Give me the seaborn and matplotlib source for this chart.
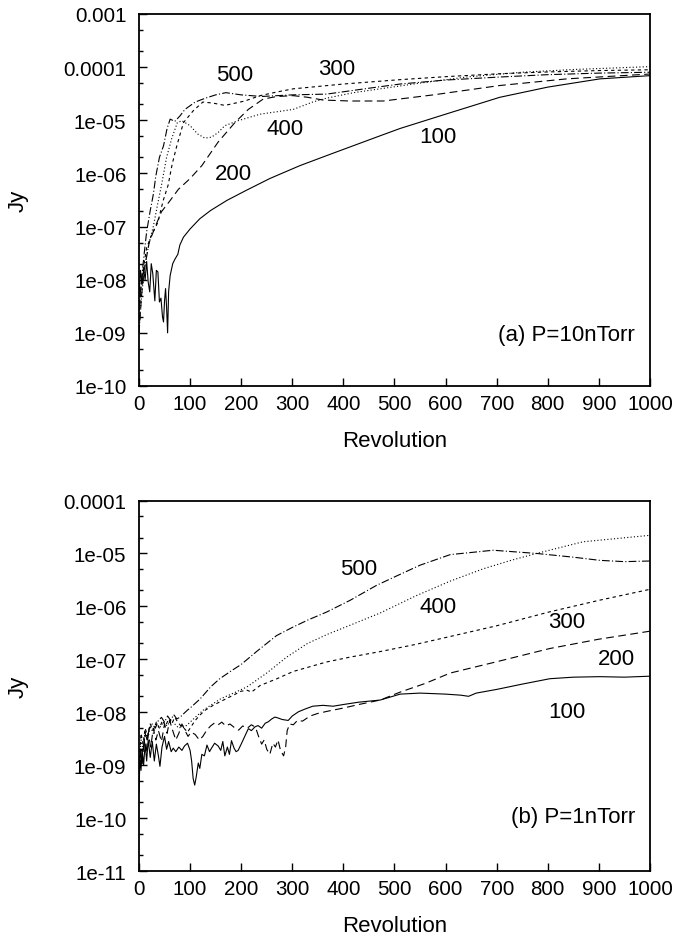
import numpy as np
import pandas as pd
import matplotlib
matplotlib.use("Agg")
import matplotlib.pyplot as plt
import matplotlib.ticker as mticker
import seaborn as sns

# ---- panel (a) P=10nTorr : revolution / Jy ----
a100_x = [0, 3, 6, 9, 12, 15, 18, 21, 24, 27, 31, 34, 37, 40, 43, 46, 48, 50, 52, 54, 56, 58,
          61, 66, 70, 76, 80, 87, 100, 119, 140, 172, 210, 256, 315, 380, 472, 511, 600, 706,
          800, 902, 1000]
a100_y = [5e-9, 1.5e-8, 8e-9, 1.6e-8, 1e-8, 2.2e-8, 9e-9, 5.9e-9, 2e-8, 1.3e-8, 4e-9, 1.5e-8,
          1.4e-8, 3.8e-9, 4.5e-9, 2e-9, 1.6e-9, 4e-9, 6.8e-9, 3e-9, 1e-9, 6e-9,
          1.2e-8, 2e-8, 2.4e-8, 3e-8, 4.5e-8, 6.3e-8, 9e-8, 1.4e-7, 2e-7, 3.1e-7, 4.8e-7, 8e-7,
          1.4e-6, 2.4e-6, 5.1e-6, 7e-6, 1.3e-5, 2.7e-5, 4.2e-5, 6e-5, 6.9e-5]

a200_x = [0, 5, 10, 20, 30, 44, 60, 77, 100, 123, 155, 188, 214, 243, 270, 302, 330, 360,
          413, 478, 576, 706, 837, 1000]
a200_y = [1e-9, 5e-9, 1.5e-8, 5e-8, 9e-8, 1.9e-7, 3e-7, 5e-7, 8e-7, 1.4e-6, 3.9e-6, 9.1e-6,
          1.6e-5, 2.5e-5, 2.8e-5, 2.9e-5, 2.7e-5, 2.4e-5, 2.3e-5, 2.3e-5, 3e-5, 4.5e-5, 6e-5,
          7.4e-5]

a300_x = [0, 5, 15, 25, 37, 47, 57, 65, 74, 87, 106, 125, 145, 168, 207, 237, 270, 302, 400,
          511, 600, 706, 800, 900, 1000]
a300_y = [2e-9, 1e-8, 4e-8, 7e-8, 1.2e-7, 3e-7, 6e-7, 1.5e-6, 3.3e-6, 9e-6, 1.5e-5, 2.2e-5,
          2.1e-5, 1.9e-5, 2.3e-5, 2.9e-5, 3.4e-5, 3.9e-5, 4.8e-5, 5.8e-5, 6.6e-5, 7.5e-5,
          8.1e-5, 8.6e-5, 8.9e-5]

a400_x = [0, 5, 12, 20, 28, 36, 44, 54, 64, 75, 84, 100, 115, 129, 142, 155, 168, 194, 237,
          302, 340, 367, 420, 472, 550, 641, 750, 850, 1000]
a400_y = [1e-9, 5e-9, 2e-8, 5e-8, 1e-7, 2.5e-7, 6e-7, 2e-6, 4.5e-6, 9e-6, 9.8e-6, 7.9e-6,
          5.5e-6, 4.6e-6, 4.8e-6, 5.9e-6, 7.9e-6, 9.8e-6, 1.3e-5, 1.6e-5, 2.2e-5, 2.6e-5,
          3.3e-5, 3.9e-5, 5e-5, 6.5e-5, 8e-5, 9e-5, 1.02e-4]

a500_x = [0, 5, 10, 15, 22, 28, 33, 40, 48, 55, 61, 70, 80, 90, 110, 130, 150, 170, 200,
          240, 300, 367, 450, 511, 600, 706, 800, 900, 1000]
a500_y = [3e-9, 1e-8, 3e-8, 8e-8, 2e-7, 4e-7, 9e-7, 2e-6, 3.3e-6, 7e-6, 1.05e-5, 9.5e-6,
          1.2e-5, 1.6e-5, 2.2e-5, 2.6e-5, 3e-5, 3.3e-5, 3e-5, 2.8e-5, 3e-5, 3.1e-5, 4e-5,
          4.8e-5, 5.7e-5, 6.5e-5, 7.2e-5, 7.7e-5, 8e-5]

# ---- panel (b) P=1nTorr ----
b100_x = [0, 2, 4, 6, 9, 12, 15, 18, 22, 26, 30, 34, 38, 41, 45, 50, 54, 58, 63, 67, 72, 78,
          84, 89, 95, 100, 103, 106, 109, 112, 116, 119, 123, 128, 133, 138, 142, 148, 155,
          160, 164, 168, 173, 177, 181, 186, 190, 194, 200, 207, 214, 220, 227, 233, 240, 247,
          253, 260, 266, 272, 280, 292, 300, 312, 325, 340, 360, 380, 400, 430, 472, 511, 550,
          600, 630, 645, 660, 700, 750, 804, 850, 902, 950, 1000]
b100_y = [3e-10, 1.5e-9, 8e-10, 2e-9, 1e-9, 2.5e-9, 1.2e-9, 3e-9, 1.4e-9, 2.8e-9, 1.2e-9,
          2.5e-9, 1.5e-9, 9.5e-10, 2.2e-9, 3.5e-9, 2e-9, 2.8e-9, 1.8e-9, 2.1e-9, 1.8e-9,
          2.2e-9, 1.9e-9, 2.3e-9, 2.6e-9, 1.9e-9, 1.2e-9, 5.6e-10, 4.2e-10, 6e-10, 1.1e-9,
          8.7e-10, 1.6e-9, 1.5e-9, 2.4e-9, 1.8e-9, 2.1e-9, 2.6e-9, 2.3e-9, 1.9e-9, 2.8e-9,
          1.5e-9, 2.2e-9, 1.6e-9, 2.9e-9, 2.1e-9, 1.8e-9, 1.9e-9, 2.5e-9, 3.5e-9, 4.9e-9,
          4.5e-9, 5.3e-9, 5.6e-9, 5e-9, 6.2e-9, 6.6e-9, 7.5e-9, 8.1e-9, 7.8e-9, 7.3e-9, 7e-9,
          8.5e-9, 1.02e-8, 1.15e-8, 1.3e-8, 1.35e-8, 1.3e-8, 1.4e-8, 1.55e-8, 1.7e-8, 2.2e-8,
          2.3e-8, 2.2e-8, 2.1e-8, 2e-8, 2.3e-8, 2.7e-8, 3.4e-8, 4.3e-8, 4.6e-8, 4.7e-8, 4.6e-8,
          4.8e-8]

b200_x = [0, 3, 6, 10, 14, 18, 23, 28, 33, 38, 44, 50, 55, 60, 66, 72, 78, 84, 90, 96, 102,
          110, 118, 125, 132, 140, 148, 155, 162, 170, 178, 186, 195, 203, 212, 220, 228, 234,
          240, 245, 250, 256, 262, 267, 272, 277, 283, 287, 290, 295, 302, 310, 320, 335, 350,
          370, 400, 430, 472, 511, 560, 609, 700, 804, 900, 1000]
b200_y = [5e-10, 2e-9, 1e-9, 3e-9, 1.8e-9, 4e-9, 2.2e-9, 5e-9, 3e-9, 4.5e-9, 2.8e-9, 6e-9,
          4e-9, 7e-9, 4.5e-9, 3e-9, 4e-9, 6e-9, 4.5e-9, 3.5e-9, 4.2e-9, 3.8e-9, 3e-9, 3.5e-9,
          4.5e-9, 5.5e-9, 6.3e-9, 5.8e-9, 6.5e-9, 5.5e-9, 6e-9, 5.2e-9, 4.6e-9, 5.5e-9, 5e-9,
          5.8e-9, 5.2e-9, 3.5e-9, 2.5e-9, 3e-9, 2e-9, 1.6e-9, 2.6e-9, 2.2e-9, 3e-9, 1.9e-9,
          1.5e-9, 2.2e-9, 4.5e-9, 6e-9, 5.8e-9, 7e-9, 6.8e-9, 8.5e-9, 9.5e-9, 1.05e-8, 1.2e-8,
          1.4e-8, 1.7e-8, 2.4e-8, 3.5e-8, 5.5e-8, 9e-8, 1.6e-7, 2.4e-7, 3.4e-7]

b300_x = [0, 4, 8, 12, 17, 22, 28, 34, 40, 46, 52, 58, 64, 70, 76, 82, 88, 95, 100, 110, 120,
          130, 145, 160, 180, 200, 212, 220, 237, 270, 302, 367, 413, 472, 540, 609, 700, 804,
          900, 1000]
b300_y = [1e-9, 4e-9, 2.5e-9, 5e-9, 3.5e-9, 6e-9, 4.5e-9, 6.5e-9, 5e-9, 7e-9, 5.5e-9, 7.5e-9,
          6e-9, 8e-9, 6.5e-9, 5.5e-9, 5e-9, 4.2e-9, 5e-9, 7e-9, 9e-9, 1.1e-8, 1.35e-8, 1.6e-8,
          2e-8, 2.5e-8, 2.6e-8, 2.4e-8, 3.2e-8, 4.3e-8, 5.9e-8, 8.9e-8, 1.1e-7, 1.4e-7, 1.9e-7,
          2.7e-7, 4.3e-7, 7.9e-7, 1.3e-6, 2.1e-6]

b400_x = [0, 4, 8, 12, 17, 22, 28, 34, 40, 48, 55, 62, 70, 78, 86, 93, 100, 110, 126, 140,
          160, 185, 211, 250, 289, 330, 370, 413, 472, 543, 609, 673, 730, 778, 869, 1000]
b400_y = [8e-10, 3e-9, 2e-9, 4.5e-9, 3e-9, 5.5e-9, 4e-9, 6e-9, 5e-9, 6.5e-9, 5.5e-9, 7e-9,
          6e-9, 5e-9, 5.5e-9, 5.6e-9, 6.5e-9, 8e-9, 1.1e-8, 1.35e-8, 1.8e-8, 2.3e-8, 3e-8,
          5.5e-8, 1.1e-7, 2e-7, 3e-7, 4.4e-7, 7.5e-7, 1.6e-6, 3e-6, 5.1e-6, 7.5e-6, 1e-5,
          1.66e-5, 2.2e-5]

b500_x = [0, 4, 8, 12, 16, 20, 26, 32, 38, 44, 50, 56, 62, 68, 74, 80, 88, 95, 100, 120, 140,
          158, 180, 200, 230, 269, 300, 330, 367, 413, 465, 500, 550, 609, 693, 778, 850, 902,
          950, 1000]
b500_y = [5e-10, 2e-9, 1.8e-9, 4e-9, 3e-9, 5e-9, 6e-9, 5e-9, 7e-9, 8e-9, 6.5e-9, 8.5e-9,
          7e-9, 9e-9, 7.5e-9, 8e-9, 9.5e-9, 1.1e-8, 1.2e-8, 1.8e-8, 3e-8, 4.3e-8, 6e-8, 8e-8,
          1.4e-7, 2.8e-7, 4e-7, 5.5e-7, 7.8e-7, 1.3e-6, 2.5e-6, 3.6e-6, 6e-6, 9.5e-6, 1.15e-5,
          1e-5, 8.5e-6, 7.4e-6, 7e-6, 7.2e-6]

labels = ["100", "200", "300", "400", "500"]
styles = ["-", (0, (7, 4)), (0, (3, 3)), (0, (1, 2)), (0, (7, 2, 1, 2))]

panel_a = [(a100_x, a100_y), (a200_x, a200_y), (a300_x, a300_y), (a400_x, a400_y), (a500_x, a500_y)]
panel_b = [(b100_x, b100_y), (b200_x, b200_y), (b300_x, b300_y), (b400_x, b400_y), (b500_x, b500_y)]

# where the curve numbers sit (revolution, Jy)
lab_a = [(585, 5e-6), (184, 9.8e-7), (387, 9.3e-5), (285, 6.9e-6), (188, 7.4e-5)]
lab_b = [(837, 1.03e-8), (935, 1.03e-7), (837, 5.1e-7), (585, 1.0e-6), (429, 5.2e-6)]

sns.set_style("ticks")
fs_tick = 14.8
fs = 16
plt.rcParams['font.family'] = ['Liberation Sans', 'DejaVu Sans']
plt.rcParams['font.size'] = fs
plt.rcParams['text.color'] = 'black'
plt.rcParams['axes.labelcolor'] = 'black'
plt.rcParams['xtick.color'] = 'black'
plt.rcParams['ytick.color'] = 'black'
plt.rcParams['axes.edgecolor'] = 'black'

fig = plt.figure(figsize=(6.78, 9.45), dpi=100)
ax_a = fig.add_axes([0.205, 0.5905, 0.7537, 0.3937])
ax_b = fig.add_axes([0.205, 0.0772, 0.7537, 0.3921])


def fmt(v, pos):
    return "%g" % v


for ax, curves, labpos, ylim, tag, tagy in [
        (ax_a, panel_a, lab_a, (1e-10, 1e-3), "(a) P=10nTorr", 9.5e-10),
        (ax_b, panel_b, lab_b, (1e-11, 1e-4), "(b) P=1nTorr", 1.07e-10)]:
    for (xs, ys), ls in zip(curves, styles):
        df = pd.DataFrame({"Revolution": xs, "Jy": ys})
        sns.lineplot(data=df, x="Revolution", y="Jy", ax=ax, color="black",
                     linewidth=0.8, linestyle=ls, estimator=None)
    ax.set_yscale("log")
    ax.set_xlim(0, 1000)
    ax.set_ylim(*ylim)
    ax.xaxis.set_major_locator(mticker.MultipleLocator(100))
    ax.yaxis.set_major_locator(mticker.LogLocator(base=10, numticks=20))
    ax.yaxis.set_minor_locator(mticker.LogLocator(base=10, subs=[2, 5], numticks=20))
    ax.yaxis.set_major_formatter(mticker.FuncFormatter(fmt))
    ax.yaxis.set_minor_formatter(mticker.NullFormatter())
    ax.tick_params(axis="both", which="major", direction="in", length=6, width=1,
                   labelsize=fs_tick, top=False, right=False, colors="black")
    ax.tick_params(axis="y", which="minor", direction="in", length=3, width=1, right=False)
    ax.tick_params(axis="x", pad=6)
    ax.tick_params(axis="y", pad=9)
    for sp in ax.spines.values():
        sp.set_visible(True)
        sp.set_linewidth(1.3)
        sp.set_color("black")
    ax.set_xlabel("Revolution", fontsize=fs, labelpad=12)
    ax.set_ylabel("Jy", fontsize=fs, labelpad=25)
    for lab, (lx, ly) in zip(labels, labpos):
        ax.text(lx, ly, lab, fontsize=fs, ha="center", va="center")
    ax.text(971, tagy, tag, fontsize=fs, ha="right", va="center")

fig.savefig("out.png", dpi=100)
